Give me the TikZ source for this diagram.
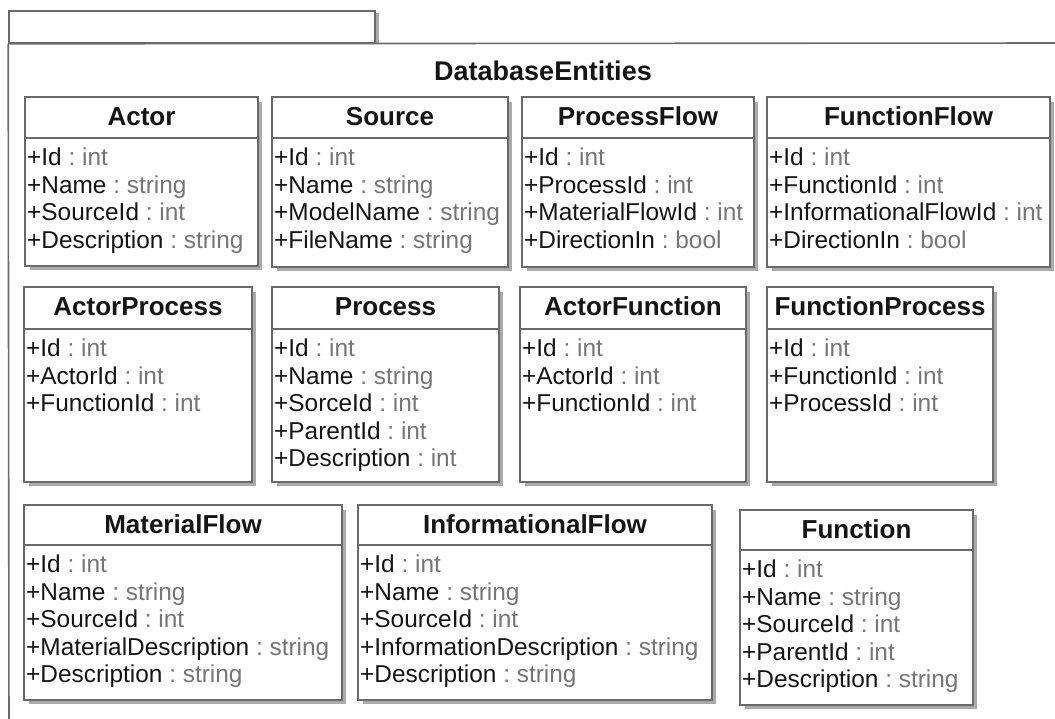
\documentclass[tikz,border=0pt]{standalone}
\usepackage{fontspec}
\setmainfont{Liberation Sans}
\usetikzlibrary{fit}
\definecolor{linegray}{HTML}{6A6A6A}
\definecolor{shadowgray}{HTML}{AAAAAA}
\definecolor{typegray}{HTML}{767676}
\definecolor{namecol}{HTML}{151515}
\newcommand{\attr}[2]{\textcolor{namecol}{+#1}\ \textcolor{typegray}{:\ #2}}
\tikzset{
  classbox/.style={draw=linegray, line width=1.6pt, fill=white, inner sep=0pt},
  divline/.style={draw=linegray, line width=1.6pt},
  shadowfill/.style={fill=shadowgray},
  titletext/.style={font=\fontsize{26}{28}\selectfont\bfseries, text=namecol, inner sep=0pt},
  attrtext/.style={font=\fontsize{24.4}{27.5}\selectfont, align=left, inner sep=0pt},
  pkgline/.style={draw=linegray, line width=1.6pt},
  pkgtitle/.style={font=\fontsize{27}{30}\selectfont\bfseries, text=namecol, inner sep=0pt}
}
% #1 name, #2 left, #3 top, #4 right, #5 bottom, #6 divider y, #7 title, #8 attributes
\newcommand{\umlclass}[8]{%
  \fill[shadowfill] (#2+5,#3+5) rectangle (#4+4,#5+4);
  \path (#2,#3) coordinate (#1-nw) (#4,#5) coordinate (#1-se);
  \node[classbox, fit=(#1-nw)(#1-se)] (#1) {};
  \draw[divline] (#2,#6) -- (#4,#6);
  \node[titletext, anchor=base] (#1-title) at ({(#2+#4)/2},#3+28) {#7};
  \node[attrtext, anchor=north west] (#1-attrs) at (#2+2,#6+10) {#8};
}
\begin{document}
\begin{tikzpicture}[x=1pt,y=-1pt]
\useasboundingbox (0,0) rectangle (1055,718);
% package frame
\fill[shadowfill] (375,13) rectangle (379,43);
\path (9,11) coordinate (tab-nw) (375,43) coordinate (tab-se);
\node[pkgline, fill=white, inner sep=0pt, fit=(tab-nw)(tab-se)] (pkgtab) {};
\draw[pkgline] (pkgtab.south west) -- (9,740);
\draw[pkgline] (pkgtab.south west) -- (1070,43);
\node[pkgtitle, anchor=base] (pkgname) at (543,80) {DatabaseEntities};

\umlclass{actor}{25}{97}{258}{266}{138}{Actor}{\attr{Id}{int}\\\attr{Name}{string}\\\attr{SourceId}{int}\\\attr{Description}{string}}
\umlclass{source}{272}{97}{508}{267}{138}{Source}{\attr{Id}{int}\\\attr{Name}{string}\\\attr{ModelName}{string}\\\attr{FileName}{string}}
\umlclass{processflow}{522}{97}{754}{267}{138}{ProcessFlow}{\attr{Id}{int}\\\attr{ProcessId}{int}\\\attr{MaterialFlowId}{int}\\\attr{DirectionIn}{bool}}
\umlclass{functionflow}{767}{97}{1050}{267}{138}{FunctionFlow}{\attr{Id}{int}\\\attr{FunctionId}{int}\\\attr{InformationalFlowId}{int}\\\attr{DirectionIn}{bool}}

\umlclass{actorprocess}{24}{287}{252}{482}{329}{ActorProcess}{\attr{Id}{int}\\\attr{ActorId}{int}\\\attr{FunctionId}{int}}
\umlclass{process}{272}{287}{499}{482}{329}{Process}{\attr{Id}{int}\\\attr{Name}{string}\\\attr{SorceId}{int}\\\attr{ParentId}{int}\\\attr{Description}{int}}
\umlclass{actorfunction}{520}{287}{746}{482}{329}{ActorFunction}{\attr{Id}{int}\\\attr{ActorId}{int}\\\attr{FunctionId}{int}}
\umlclass{functionprocess}{767}{287}{993}{482}{329}{FunctionProcess}{\attr{Id}{int}\\\attr{FunctionId}{int}\\\attr{ProcessId}{int}}

\umlclass{materialflow}{24}{505}{342}{700}{545}{MaterialFlow}{\attr{Id}{int}\\\attr{Name}{string}\\\attr{SourceId}{int}\\\attr{MaterialDescription}{string}\\\attr{Description}{string}}
\umlclass{informationalflow}{358}{505}{712}{700}{545}{InformationalFlow}{\attr{Id}{int}\\\attr{Name}{string}\\\attr{SourceId}{int}\\\attr{InformationDescription}{string}\\\attr{Description}{string}}
\umlclass{function}{740}{510}{973}{705}{550}{Function}{\attr{Id}{int}\\\attr{Name}{string}\\\attr{SourceId}{int}\\\attr{ParentId}{int}\\\attr{Description}{string}}
\end{tikzpicture}
\end{document}
